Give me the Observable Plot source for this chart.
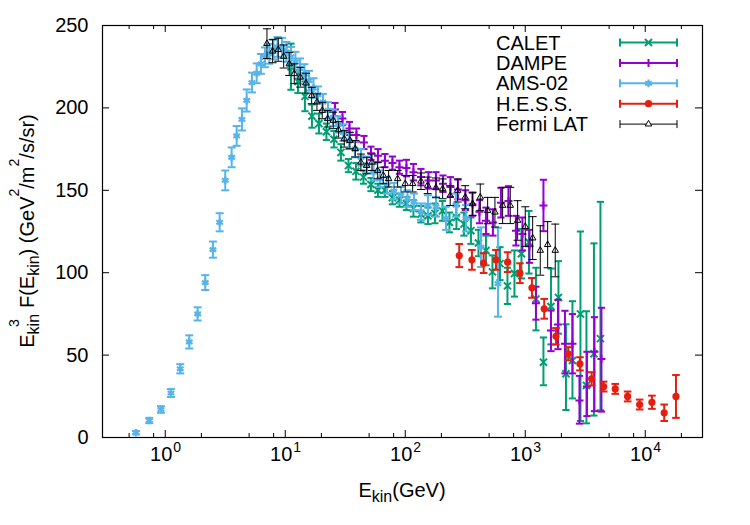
<!DOCTYPE html>
<html>
<head>
<meta charset="utf-8">
<script src="https://cdn.jsdelivr.net/npm/d3@7"></script>
<script src="https://cdn.jsdelivr.net/npm/@observablehq/plot@0.6"></script>
<style>
  body { margin: 0; background: #fff; }
  #chart svg { display: block; }
</style>
</head>
<body>
<div id="chart"></div>
<script>
// Cosmic-ray electron (+positron) spectra, E^3-weighted.
// Each row: [E_kin (GeV), E^3 F (GeV^2/m^2/s/sr), error below, error above]
const calet = [
  [11.16,225,14,14],[12.76,216,7,7],[14.59,207,9,9],[16.69,195,7,7],[19.09,190.5,6,6],
  [22.04,185.5,5,5],[25.46,181,5,5],[29.12,173,5,5],[33.63,165,4,4],[38.84,161.5,5,5],
  [44.85,158,4,4],[51.80,153.5,4,4],[59.23,150,4,4],[67.73,150,4,4],[78.22,145.5,4,4],
  [89.45,144,4,4],[102.3,142,4,4],[117.0,139,5,5],[135.1,135.5,5,5],[154.6,134.5,5,5],
  [176.8,136,6,6],[204.2,137.5,6,6],[233.5,130.5,6,6],[267.1,133.5,7,7],[308.4,129.5,7,7],
  [352.7,125.5,8,8],[407.4,118,8,8],[470.5,113.5,9,9],[533.1,100.5,10,10],[615.6,105.5,10,10],
  [710.9,92,11,11],[812.8,99.5,14,14],[929.6,111.5,15,15],[1073.6,118.5,19,19],[1228,84,19,19],
  [1418,45.7,14,15],[1638,79.5,23,23],[1891,85,22,22],[2184,38.7,22,30],[2474,46.7,23,36],
  [2884,75,65,50],[3236,31.6,23,45],[3737,50.8,37.5,67],[4233,60,43.5,83]
];
const dampe = [
  [25.95,199,4,4],[29.97,193.5,4,4],[34.28,187.5,4,4],[39.20,183.5,4,4],[45.28,179,4,4],
  [51.80,172.5,4,4],[59.23,171,4,4],[67.73,168,4,4],[78.22,166.5,4,4],[89.45,164,4,4],
  [102.3,163.5,5,5],[117.0,161,5,5],[135.1,158,5,5],[156.1,156,5,5],[180.3,156,5,5],
  [206.2,154,5,5],[238.1,152,6,6],[274.9,150.5,6,6],[317.5,144,6,6],[363.1,141.5,7,7],
  [415.3,137,7,7],[470.5,131.5,8,8],[538.0,130.5,8,8],[627.5,142.5,9,9],[724.4,143.5,9,9],
  [836.5,125.5,9,9],[947.6,123.5,10,10],[1084,116,10,10],[1228,81.5,10,10],[1418,140.8,15.6,15.6],
  [1638,65,12.6,12],[1873,68.6,15,15],[2142,56.9,18,20],[2474,56.9,18,18],[2830,22.4,14,15],
  [3268,31,18,21],[3773,52,36,21],[4315,47.7,32,31]
];
const ams02 = [
  [0.570,2.9,1,1],[0.736,10.3,1.6,1.6],[0.921,17,2,2],[1.116,27,2.4,2.4],[1.334,41.7,2.8,2.8],
  [1.585,58,4,4],[1.862,75,4,4],[2.154,94,4.5,4.5],[2.497,114,4.9,4.9],[2.84,130.6,5.5,5.5],
  [3.162,156,6,6],[3.575,170,6,6],[3.936,183,6,6],[4.356,193,6.7,6.7],[4.77,204.5,6.7,6.7],
  [5.28,215.4,6,6],[5.78,221,6,6],[6.27,226.7,6,6],[6.77,230.7,6,6],[7.36,232.8,6,6],
  [7.97,235.5,6,6],[8.64,237,6,6],[9.39,236.5,6,6],[10.23,234,6,6],[11.16,231,6,6],
  [12.16,228,6,6],[13.26,224,6,6],[14.45,220.5,6,6],[15.76,216.5,6,6],[17.18,212,6,6],
  [18.73,208,5,5],[20.62,203.5,5,5],[22.69,198.5,5,5],[24.97,194,5,5],[27.49,190,5,5],
  [30.55,185,5,5],[33.96,180,5,5],[38.09,175,5,5],[42.74,170,5,5],[47.96,165.5,5,5],
  [54.33,161,5,5],[61.54,157,5,5],[70.38,153,5,5],[80.49,149.5,5,5],[92.08,147,5,5],
  [104.3,145,5,5],[118.2,143,5,5],[135.1,137,5,5],[154.6,141,6,6],[180.3,140,6,6],
  [218.4,133,7,7],[264.6,141,7,7],[320.5,133,8,8],[427.4,115.5,12,12],[592.3,93.3,20,34]
];
const hess = [
  [281.8,110.4,7,7],[359.5,107.8,6,6],[450,105.8,6,6],[570,107.8,6,6],[713,106.4,6,6],
  [903,99.7,6,6],[1137,90.8,6,6],[1439,78.1,6,6],[1803,61.4,5,5],[2280,50.8,4,4],
  [2856,44.7,4,4],[3575,35.6,4,4],[4500,30.9,3,3],[5623,29.5,3,3],[7130,24.9,3,3],
  [8980,20,3,3],[11370,21.4,4,4],[14390,15,5,5],[18030,24.9,13,13]
];
const fermiLat = [
  [7.04,239,9,9],[7.85,234.4,7,7],[8.74,235.3,7,7],[9.70,231.2,7,7],[10.80,226.7,7,7],
  [11.89,220.7,6,6],[13.34,218.6,6,6],[14.88,215,6,6],[16.60,207.5,5,5],[18.37,203.5,5,5],
  [20.34,198.4,5,5],[22.55,193.4,5,5],[25.12,192.4,5,5],[27.86,186.7,5,5],[31.03,181.2,5,5],
  [34.6,180.2,5,5],[38.3,175.2,5,5],[42.7,167,5,5],[47.7,165,5,5],[52.8,167,5,5],
  [58.9,162,5,5],[65.6,159,5,5],[72.7,157,5,5],[86.4,157,5,5],[100,154,5,5],
  [115.3,154,5,5],[135.2,155.5,5,5],[153.7,153,5,5],[180.3,151.5,6,6],[205,150.9,6,6],
  [237,146.8,6,6],[273.3,149.9,7,7],[316,145.8,7,7],[364.6,141.8,7,7],[421.7,145.8,8,8],
  [486,137.7,8,8],[559,136.7,9,9],[648,140.8,11,11],[750,140.8,11,11],[864,131.7,12,12],
  [1000,128,12,12],[1153,121,13,13],[1334,113.5,15,15],[1537,117,14,14],[1778,113.5,16,16]
];

const seriesNames = ["CALET", "DAMPE", "AMS-02", "H.E.S.S.", "Fermi LAT"];
const seriesData = [calet, dampe, ams02, hess, fermiLat];
const seriesColors = ["#009e73", "#9400d3", "#56b4e9", "#e51e10", "#000000"];
const seriesSymbols = ["times", "plus", "asterisk", "circle", "triangle2"];

const xMajorTicks = [1, 10, 100, 1000, 10000];
const xTickExponents = ["0", "1", "2", "3", "4"];
const xMinorTicks = [0.5, 0.8, 2, 5, 8, 20, 50, 80, 200, 500, 800, 2000, 5000, 8000, 20000];
const yTicks = [0, 50, 100, 150, 200, 250];

const W = 750, H = 525;
const M = {top: 25, right: 48, bottom: 88, left: 102};
const frameW = W - M.left - M.right, frameH = H - M.top - M.bottom;
const FONT = "'Liberation Sans', Arial, Helvetica, sans-serif";

// style per series: line width, marker radius, cap half-width
const seriesStyle = [
  {sw: 2, r: 3.3, cap: 3.6},
  {sw: 2, r: 2.7, cap: 3.6},
  {sw: 2.2, r: 3.6, cap: 4},
  {sw: 2, r: 3.6, cap: 3.8},
  {sw: 1, r: 3.1, cap: 4}
];

// horizontal bar used as error-bar cap
const capSymbol = {
  draw(ctx, size) {
    const w = Math.sqrt(size / Math.PI);
    ctx.moveTo(-w, 0);
    ctx.lineTo(w, 0);
  }
};

function seriesMarks(rows, i) {
  const color = seriesColors[i], st = seriesStyle[i], sym = seriesSymbols[i];
  const filled = sym === "circle";
  return [
    Plot.ruleX(rows, {x: d => d[0], y1: d => d[1] - d[2], y2: d => d[1] + d[3],
      stroke: color, strokeWidth: Math.min(st.sw, 2)}),
    Plot.dot(rows, {x: d => d[0], y: d => d[1] - d[2], symbol: capSymbol, r: st.cap,
      fill: "none", stroke: color, strokeWidth: Math.min(st.sw, 2)}),
    Plot.dot(rows, {x: d => d[0], y: d => d[1] + d[3], symbol: capSymbol, r: st.cap,
      fill: "none", stroke: color, strokeWidth: Math.min(st.sw, 2)}),
    Plot.dot(rows, {x: d => d[0], y: d => d[1], symbol: sym, r: st.r,
      fill: filled ? color : "none", stroke: filled ? "none" : color,
      strokeWidth: st.sw})
  ];
}

const tickLen = 7, minorLen = 4;

const chart = Plot.plot({
  width: W,
  height: H,
  marginTop: M.top, marginRight: M.right, marginBottom: M.bottom, marginLeft: M.left,
  style: {fontFamily: FONT, fontSize: "20px", background: "#fff", color: "#000"},
  x: {type: "log", domain: [0.3, 30000], axis: null},
  y: {domain: [0, 250], axis: null},
  marks: [
    ...seriesData.flatMap((rows, i) => seriesMarks(rows, i)),
    // ticks on all four sides, pointing inward
    Plot.tickX(xMajorTicks, {x: d => d, insetTop: frameH - tickLen, stroke: "#000"}),
    Plot.tickX(xMajorTicks, {x: d => d, insetBottom: frameH - tickLen, stroke: "#000"}),
    Plot.tickX(xMinorTicks, {x: d => d, insetTop: frameH - minorLen, stroke: "#000"}),
    Plot.tickX(xMinorTicks, {x: d => d, insetBottom: frameH - minorLen, stroke: "#000"}),
    Plot.tickY(yTicks, {y: d => d, insetRight: frameW - tickLen, stroke: "#000"}),
    Plot.tickY(yTicks, {y: d => d, insetLeft: frameW - tickLen, stroke: "#000"}),
    Plot.frame({stroke: "#000", strokeWidth: 1.2}),
    // tick labels
    Plot.text(xMajorTicks, {x: d => d, frameAnchor: "bottom", text: () => "10",
      dx: -4, dy: 23, fontSize: 20, fill: "#000"}),
    Plot.text(xMajorTicks, {x: d => d, frameAnchor: "bottom", text: (d, i) => xTickExponents[i],
      dx: 12, dy: 14, fontSize: 14, fill: "#000"}),
    Plot.text(yTicks, {y: d => d, frameAnchor: "left", text: d => String(d),
      textAnchor: "end", dx: -14, fontSize: 20, fill: "#000"})
  ]
});

document.getElementById("chart").appendChild(chart);

// axis titles with sub- and superscripts
const svg = d3.select(chart);
function richText(parent, parts) {
  for (const p of parts) {
    const t = parent.append("tspan").text(p.t);
    if (p.size) t.attr("font-size", p.size);
    if (p.dy) t.attr("dy", p.dy);
    if (p.dx) t.attr("dx", p.dx);
  }
}
const xTitle = svg.append("text")
  .attr("x", M.left + frameW / 2).attr("y", 497)
  .attr("text-anchor", "middle").attr("font-size", 20).attr("fill", "#000")
  .style("font-family", FONT);
richText(xTitle, [{t: "E"}, {t: "kin", size: 16, dy: 5}, {t: "(GeV)", dy: -5}]);

const yTitle = svg.append("text")
  .attr("transform", `translate(34,${M.top + frameH / 2}) rotate(-90)`)
  .attr("text-anchor", "middle").attr("font-size", 20).attr("fill", "#000")
  .style("font-family", FONT);
richText(yTitle, [
  {t: "E"}, {t: "kin", size: 16, dy: 5}, {t: "3", size: 14, dy: -20, dx: -13},
  {t: "\u00a0\u00a0F(E", dy: 15}, {t: "kin", size: 16, dy: 5}, {t: ")\u00a0(GeV", dy: -5},
  {t: "2", size: 14, dy: -15}, {t: "/m", dy: 15}, {t: "2", size: 14, dy: -15},
  {t: "/s/sr)", dy: 15}
]);

// key
const symbolTypes = {
  times: d3.symbolTimes, plus: d3.symbolPlus, asterisk: d3.symbolAsterisk,
  circle: d3.symbolCircle, triangle2: d3.symbolTriangle2
};
const key = svg.append("g").style("font-family", FONT);
seriesNames.forEach((name, i) => {
  const y = 42.5 + i * 20.4;
  const color = seriesColors[i], st = seriesStyle[i];
  const lw = Math.min(st.sw, 2);
  const g = key.append("g");
  g.append("text").attr("x", 496).attr("y", y).attr("dy", "0.35em")
    .attr("text-anchor", "start")
    .attr("font-size", 20).attr("fill", "#000").text(name);
  const x0 = 620, x1 = 677, xm = (x0 + x1) / 2;
  g.append("line").attr("x1", x0).attr("x2", x1).attr("y1", y).attr("y2", y)
    .attr("stroke", color).attr("stroke-width", lw);
  for (const xe of [x0, x1]) {
    g.append("line").attr("x1", xe).attr("x2", xe).attr("y1", y - 4).attr("y2", y + 4)
      .attr("stroke", color).attr("stroke-width", lw);
  }
  const filled = seriesSymbols[i] === "circle";
  g.append("path")
    .attr("transform", `translate(${xm},${y})`)
    .attr("d", d3.symbol(symbolTypes[seriesSymbols[i]], Math.PI * st.r * st.r)())
    .attr("fill", filled ? color : "#fff")
    .attr("stroke", filled ? "none" : color)
    .attr("stroke-width", st.sw);
});
</script>
</body>
</html>
